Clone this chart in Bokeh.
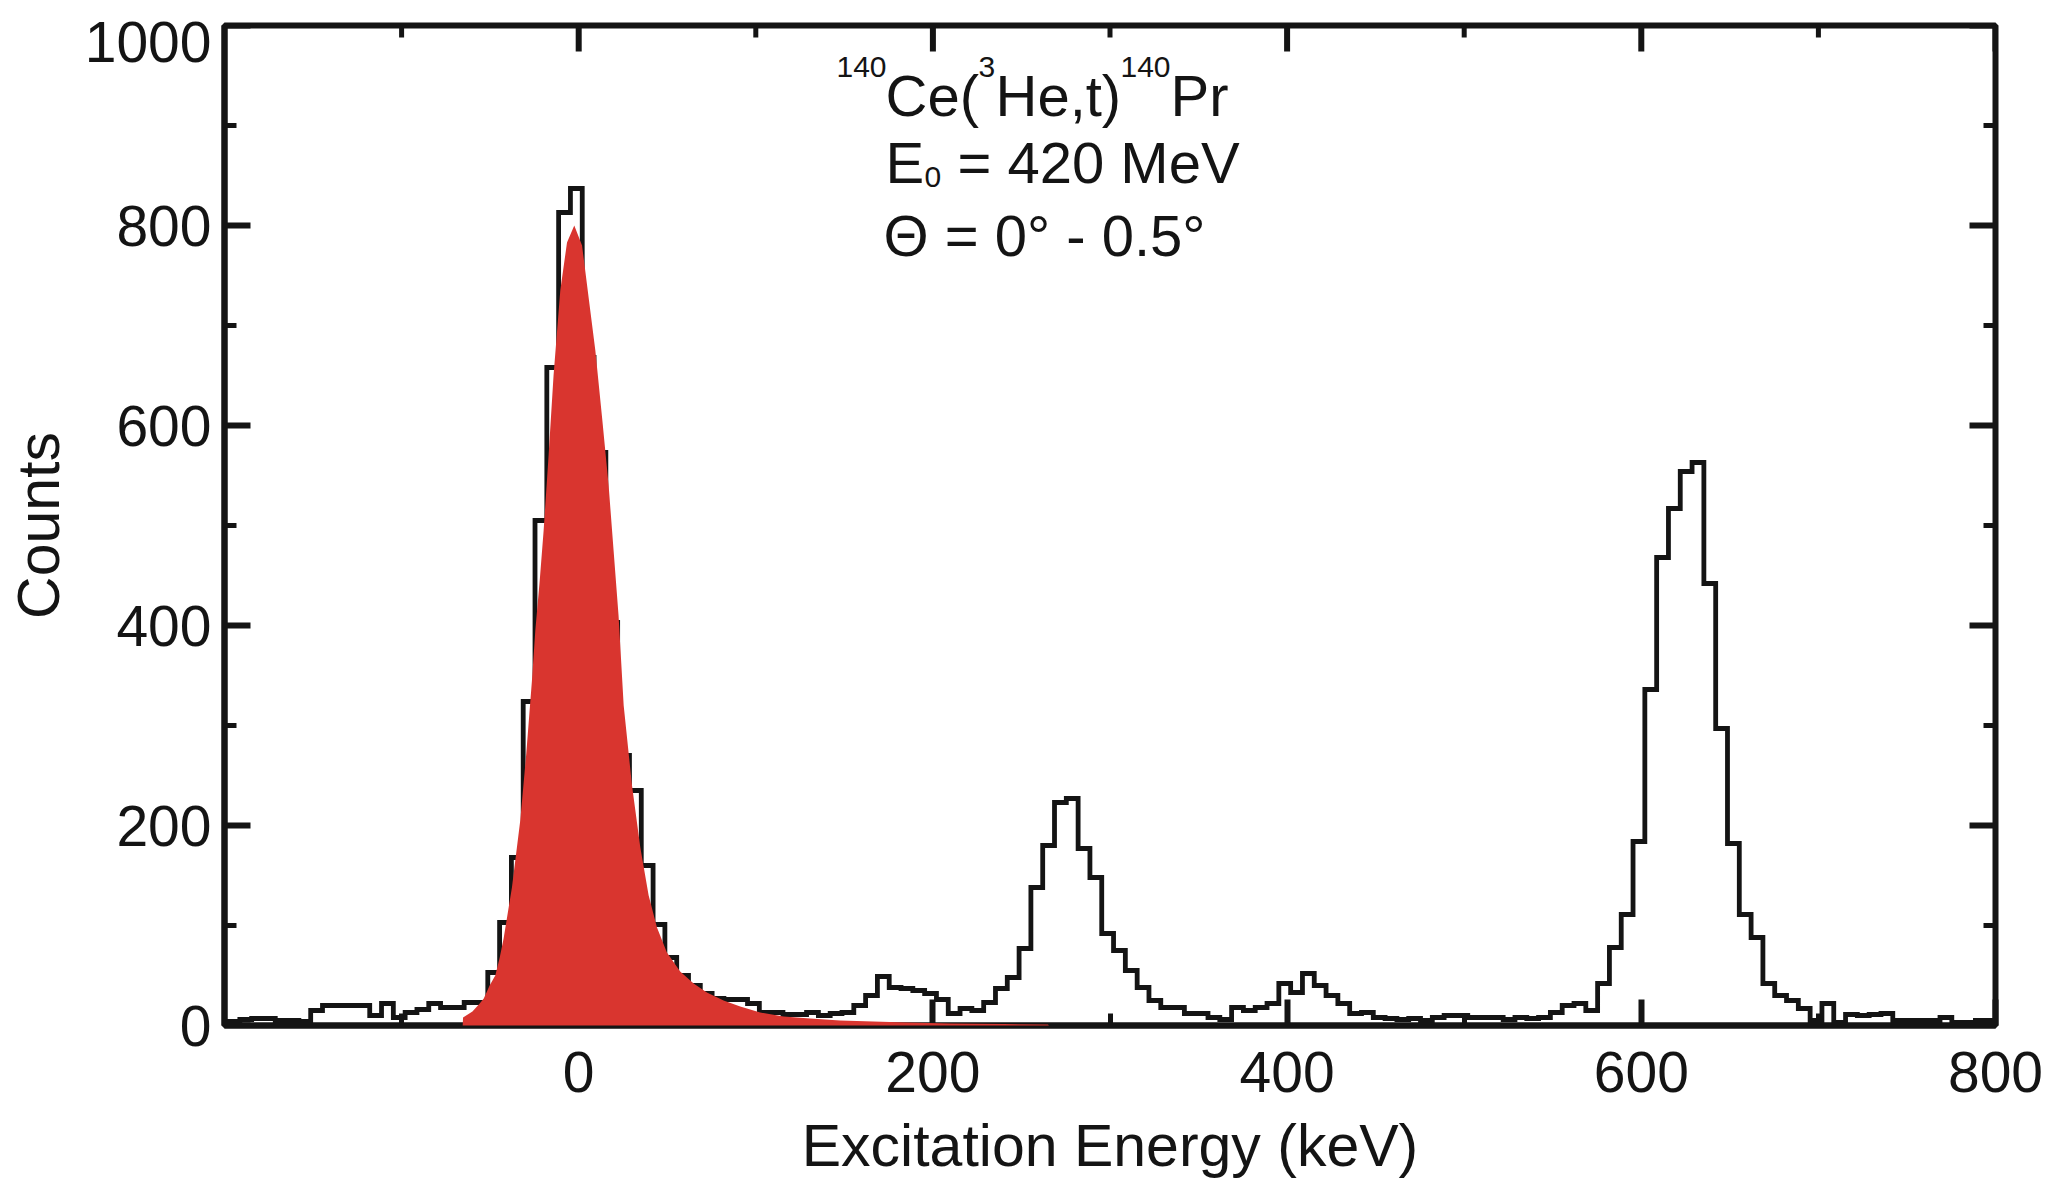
import numpy as np
from bokeh.plotting import figure
from bokeh.models import Range1d, LinearAxis, FixedTicker, Label
from bokeh.embed import file_html
from bokeh.resources import INLINE

# ---------------- data ----------------
# 140Ce(3He,t)140Pr spectrum: histogram with constant bin width (keV)
bin_width = 20.0 / 3.0
first_bin_edge = -198.0 - 20.0 / 3.0
counts = [4,
          4, 6, 7, 7, 5, 5, 4, 15, 20, 20,
          20, 20, 10, 22, 8, 13, 16, 22, 18, 18,
          23, 23, 53, 103, 168, 324, 505, 658, 813, 837,
          668, 573, 403, 270, 235, 160, 101, 68, 50, 40,
          32, 27, 26, 26, 22, 13, 13, 11, 11, 13,
          10, 12, 13, 20, 30, 49, 38, 37, 35, 32,
          26, 12, 17, 15, 23, 37, 48, 77, 138, 180,
          223, 227, 177, 148, 92, 75, 55, 38, 25, 18,
          18, 12, 12, 8, 6, 18, 15, 18, 22, 42,
          33, 52, 40, 30, 22, 12, 13, 8, 7, 6,
          7, 5, 8, 10, 10, 8, 8, 8, 6, 8,
          7, 8, 13, 20, 22, 15, 42, 78, 111, 184,
          336, 468, 517, 554, 563, 442, 297, 182, 111, 88,
          42, 30, 25, 17, 5, 22, 3, 11, 10, 11,
          12, 5, 5, 5, 5, 8, 3, 3, 5, 5]

# fitted ground-state line shape (red)
red_energy = [-65.5, -65.3, -60.0, -55.9, -53.6, -50.3, -47.1, -44.6, -42.4, -37.7,
              -33.0, -29.6, -26.4, -24.5, -22.0, -19.8, -17.0, -14.2, -10.4, -6.6,
              -2.5, 1.9, 5.6, 9.4, 13.2, 16.9, 19.7, 22.5, 25.4, 30.1,
              34.8, 39.5, 44.2, 49.8, 57.3, 64.9, 72.4, 81.8, 91.2, 102.5,
              115.6, 130.7, 147.6, 185.2, 209.7, 240.0, 265.0, 265.5]
red_counts = [0, 8, 14, 22, 27, 40, 50, 68, 87, 138,
              205, 272, 345, 395, 445, 495, 570, 650, 735, 783,
              800, 780, 728, 675, 608, 540, 475, 410, 320, 240,
              178, 130, 98, 73, 54, 42, 33, 25, 19, 13,
              9, 7, 5, 3, 2, 1.5, 1, 0]

x_major = [0, 200, 400, 600, 800]
x_minor = [-100, 100, 300, 500, 700]
y_major = [0, 200, 400, 600, 800, 1000]
y_minor = [100, 300, 500, 700, 900]

# ---------------- layout ----------------
FONT = "Liberation Sans"
INK = "#141414"
W, H = 2060, 1183
FL, FR, FT, FB = 224, 1995, 25, 1025
X0, X1, Y0, Y1 = -200, 800, 0, 1000
MAJOR_LEN, MINOR_LEN = 26, 12          # inward tick lengths, px
TOP_LABEL_NUDGE = 16                   # px: the "1000" label sits lower in the original

kev_per_px = (X1 - X0) / (FR - FL)
cnt_per_px = (Y1 - Y0) / (FB - FT)

p = figure(width=W, height=H, x_range=Range1d(X0, X1), y_range=Range1d(Y0, Y1),
           output_backend="svg", toolbar_location=None,
           min_border_left=FL, min_border_right=W - FR,
           min_border_top=FT, min_border_bottom=H - FB,
           x_axis_location=None, y_axis_location=None)
p.outline_line_color = INK
p.outline_line_width = 6
p.xgrid.visible = False
p.ygrid.visible = False
p.background_fill_color = "white"
p.border_fill_color = "white"


def style_axis(ax):
    ax.axis_line_width = 6
    ax.axis_line_color = INK
    ax.major_tick_in = MAJOR_LEN
    ax.major_tick_out = 0
    ax.minor_tick_in = MINOR_LEN
    ax.minor_tick_out = 0
    ax.major_tick_line_width = 6
    ax.minor_tick_line_width = 5
    ax.major_tick_line_color = INK
    ax.minor_tick_line_color = INK
    ax.major_label_text_font = FONT
    ax.major_label_text_font_size = "57px"
    ax.major_label_text_color = INK
    ax.axis_label_text_font = FONT
    ax.axis_label_text_font_size = "59px"
    ax.axis_label_text_font_style = "normal"
    ax.axis_label_text_color = INK


bottom = LinearAxis(ticker=FixedTicker(ticks=x_major, minor_ticks=x_minor),
                    axis_label="Excitation Energy (keV)")
style_axis(bottom)
bottom.major_label_standoff = 26
bottom.axis_label_standoff = 18
p.add_layout(bottom, "below")

# left axis carries only the labels (the top one nudged down a little);
# its tick marks are drawn below from the tick lists
label_pos = y_major[:-1] + [y_major[-1] - TOP_LABEL_NUDGE * cnt_per_px]
left = LinearAxis(ticker=FixedTicker(ticks=label_pos, minor_ticks=[]),
                  axis_label="Counts")
style_axis(left)
left.major_tick_line_color = None
left.minor_tick_line_color = None
left.major_label_overrides = {label_pos[-1]: str(y_major[-1])}
left.major_label_standoff = 13
left.axis_label_standoff = 10
p.add_layout(left, "left")

# inward ticks on left, top and right edges
lab_w = [6] * len(y_major) + [5] * len(y_minor)
side_y = y_major + y_minor
side_len = [MAJOR_LEN] * len(y_major) + [MINOR_LEN] * len(y_minor)
p.segment(x0=[X0] * len(side_y), y0=side_y,
          x1=[X0 + L * kev_per_px for L in side_len], y1=side_y,
          line_color=INK, line_width=lab_w)
p.segment(x0=[X1] * len(side_y), y0=side_y,
          x1=[X1 - L * kev_per_px for L in side_len], y1=side_y,
          line_color=INK, line_width=lab_w)
top_x = x_major + x_minor
top_len = [MAJOR_LEN] * len(x_major) + [MINOR_LEN] * len(x_minor)
p.segment(x0=top_x, y0=[Y1] * len(top_x), x1=top_x,
          y1=[Y1 - L * cnt_per_px for L in top_len],
          line_color=INK, line_width=[6] * len(x_major) + [5] * len(x_minor))

# ---------------- histogram ----------------
n = len(counts)
edges = first_bin_edge + bin_width * np.arange(n + 1)
step_x = list(edges)
step_y = list(counts) + [counts[-1]]
p.step(x=step_x, y=step_y, mode="after", line_color=INK, line_width=4.8,
       line_join="miter")

# red fitted peak, drawn above everything like in the original
p.varea(x=red_energy, y1=[0] * len(red_energy), y2=red_counts,
        fill_color="#D9352F", level="overlay")

# ---------------- annotation text ----------------
def px_x(px):
    return X0 + (px - FL) * kev_per_px


def px_y(py):
    return Y0 + (FB - py) * cnt_per_px


MAIN = "58px"
SMALL = "30px"
pieces = [
    # text, left px, baseline px, size
    ("140", 836, 66, SMALL),
    ("Ce(", 885, 95, MAIN),
    ("3", 978, 66, SMALL),
    ("He,t)", 995, 95, MAIN),
    ("140", 1120, 66, SMALL),
    ("Pr", 1170, 95, MAIN),
    ("E", 885, 162, MAIN),
    ("0", 924, 176, SMALL),
    ("= 420 MeV", 957, 162, MAIN),
    ("\u0398 = 0\u00b0 - 0.5\u00b0", 883, 235, MAIN),
]
for txt, lx, by, size in pieces:
    p.add_layout(Label(x=px_x(lx), y=px_y(by), text=txt, text_font=FONT,
                       text_font_size=size, text_color=INK,
                       text_align="left", text_baseline="alphabetic"))

open("out.html", "w").write(file_html(p, INLINE))
